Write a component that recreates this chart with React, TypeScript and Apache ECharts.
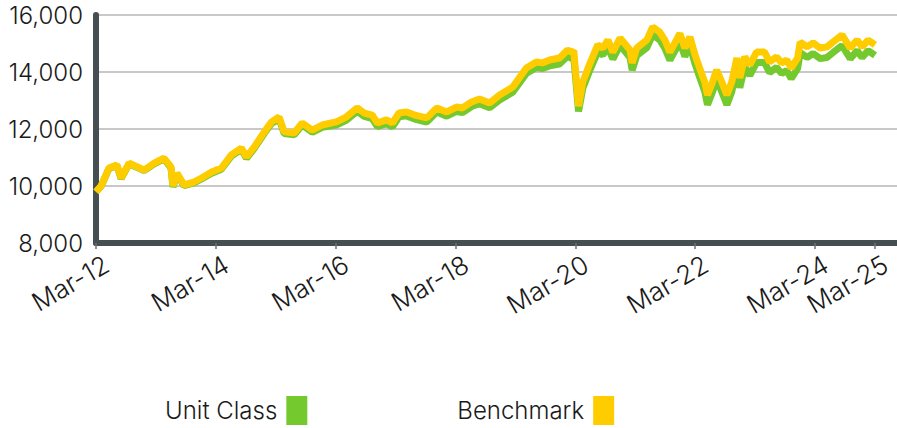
import React, { useEffect, useRef } from "react";
import * as echarts from "echarts";

const DATES = [
  "2012-03-01","2012-04-01","2012-05-19","2012-07-06","2012-08-01","2012-09-19","2012-12-19",
  "2013-02-19","2013-04-19","2013-06-01","2013-06-13","2013-07-07","2013-08-19","2013-10-19","2013-12-04",
  "2014-02-04","2014-04-04","2014-06-04","2014-08-04","2014-09-04","2014-10-22","2014-12-22",
  "2015-02-04","2015-03-22","2015-04-22","2015-06-22","2015-08-10","2015-10-10","2015-12-10",
  "2016-03-04","2016-05-04","2016-07-10","2016-08-22","2016-10-10","2016-11-10",
  "2017-01-04","2017-02-10","2017-03-22","2017-05-07","2017-06-25","2017-09-07","2017-11-07",
  "2018-01-07","2018-03-07","2018-04-13","2018-06-07","2018-07-25","2018-09-25","2018-11-25",
  "2019-02-13","2019-05-07","2019-07-07","2019-08-13","2019-09-25","2019-11-25",
  "2020-01-13","2020-02-07","2020-02-20","2020-03-20","2020-04-15","2020-05-25","2020-07-15",
  "2020-08-15","2020-09-15","2020-10-15","2020-11-28",
  "2021-01-28","2021-02-10","2021-03-10","2021-05-10","2021-06-15","2021-07-28","2021-08-28",
  "2021-09-28","2021-11-28","2021-12-28",
  "2022-01-28","2022-02-28","2022-03-28","2022-04-28","2022-05-15","2022-06-15","2022-07-10",
  "2022-08-10","2022-09-10","2022-10-10","2022-11-10","2022-11-28","2022-12-28",
  "2023-01-28","2023-03-10","2023-04-28","2023-05-28","2023-07-10","2023-08-10","2023-09-10",
  "2023-10-07","2023-11-15","2023-12-01",
  "2024-01-12","2024-02-18","2024-04-01","2024-05-12","2024-06-18","2024-08-12","2024-10-01",
  "2024-11-12","2024-12-12","2025-01-18","2025-03-01",
];

const BENCHMARK = [
  9800,10000,10630,10740,10280,10800,10560,
  10800,10980,10670,10000,10450,10040,10140,10280,
  10490,10630,11090,11330,11020,11370,11900,
  12250,12420,11900,11860,12210,11960,12140,
  12250,12420,12740,12560,12490,12210,
  12320,12210,12560,12600,12490,12390,12740,
  12600,12770,12740,12950,13050,12910,13190,
  13470,14140,14350,14320,14420,14490,
  14770,14700,14750,12800,13650,14250,14950,
  14840,15120,14700,15190,
  14770,14320,14840,15120,15580,15400,15120,
  14700,15350,14840,
  15230,14600,14140,13650,13190,13650,14070,
  13650,13190,13650,14490,13790,14530,
  14250,14700,14700,14350,14530,14320,14420,
  14140,14490,15050,
  14880,15020,14840,14880,15050,15300,14840,
  15120,14880,15120,14950,
];

const UNIT_CLASS = [
  9790,9990,10610,10720,10260,10780,10540,
  10775,10950,10640,9970,10420,10010,10110,10250,
  10450,10590,11050,11285,10975,11320,11850,
  12195,12360,11840,11795,12140,11885,12060,
  12140,12305,12620,12440,12365,12085,
  12190,12075,12425,12460,12350,12245,12595,
  12450,12615,12580,12790,12885,12745,13020,
  13290,13950,14155,14120,14215,14280,
  14550,14480,14520,12620,13430,14020,14710,
  14600,14875,14455,14940,
  14510,14060,14575,14850,15305,15125,14840,
  14420,15060,14545,
  14930,14290,13820,13320,12850,13310,13730,
  13310,12850,13310,14150,13450,14190,
  13880,14330,14330,13980,14160,13950,14050,
  13770,14120,14680,
  14510,14650,14470,14510,14680,14930,14470,
  14750,14510,14750,14580,
];

const TICK_DATES = ["2012-03-01","2014-03-01","2016-03-01","2018-03-01","2020-03-01","2022-03-01","2024-03-01","2025-03-01"];
const TICK_LABELS = ["Mar-12","Mar-14","Mar-16","Mar-18","Mar-20","Mar-22","Mar-24","Mar-25"];

const SERIES_NAMES = ["Unit Class", "Benchmark"];
const AXIS_MIN = "2012-03-01";
const AXIS_MAX = "2025-07-13";

const ts = (s: string) => new Date(s + "T00:00:00Z").getTime();
const DAY = 86400000;

export default function App() {
  const ref = useRef<HTMLDivElement>(null);
  useEffect(() => {
    document.body.style.margin = "0";
    if (!ref.current) return;
    const chart = echarts.init(ref.current, undefined, { renderer: "svg" });
    const tickTs = TICK_DATES.map(ts);
    // rotated labels sit slightly to the right of their tick, as in the reference
    const labelTs = tickTs.map((t) => t + 65 * DAY);
    const font = "Inter, 'Noto Sans', sans-serif";
    chart.setOption({
      animation: false,
      textStyle: { fontFamily: font },
      grid: { left: 96, right: 0, top: 15, bottom: 185, containLabel: false },
      legend: {
        left: 165,
        top: 396,
        padding: 0,
        align: "right",
        itemWidth: 21,
        itemHeight: 29,
        itemGap: 150,
        icon: "rect",
        data: SERIES_NAMES,
        textStyle: { fontFamily: font, fontSize: 24, fontWeight: 350, color: "#1a1a1a", padding: [0, 4, 0, 0] },
      },
      xAxis: {
        type: "value",
        min: ts(AXIS_MIN),
        max: ts(AXIS_MAX),
        splitLine: { show: false },
        axisLine: { show: true, lineStyle: { color: "#454f52", width: 6 } },
        axisTick: {
          show: true,
          customValues: tickTs,
          length: 6,
          lineStyle: { color: "#6a7275", width: 1.5 },
        },
        axisLabel: {
          customValues: labelTs,
          rotate: 30,
          margin: 19,
          hideOverlap: false,
          showMinLabel: true,
          showMaxLabel: true,
          fontFamily: font,
          fontSize: 26,
          fontWeight: 350,
          color: "#1a1a1a",
          formatter: (v: number) => {
            let best = 0;
            let bd = Infinity;
            labelTs.forEach((t, i) => {
              const d = Math.abs(t - v);
              if (d < bd) { bd = d; best = i; }
            });
            return TICK_LABELS[best];
          },
        },
      },
      yAxis: {
        type: "value",
        min: 8000,
        max: 16000,
        interval: 2000,
        axisLine: { show: true, lineStyle: { color: "#454f52", width: 6 } },
        axisTick: { show: false },
        splitLine: { show: true, lineStyle: { color: "#c8c8c8", width: 2 } },
        axisLabel: {
          margin: 13,
          fontFamily: font,
          fontSize: 24,
          fontWeight: 350,
          color: "#1a1a1a",
          padding: [4, 0, 0, 0],
          formatter: (v: number) => v.toLocaleString("en-US"),
        },
      },
      series: [
        {
          name: SERIES_NAMES[0],
          type: "line",
          showSymbol: false,
          symbol: "none",
          data: DATES.map((d, i) => [ts(d), UNIT_CLASS[i]]),
          lineStyle: { color: "#74c92f", width: 7 },
          itemStyle: { color: "#74c92f" },
          z: 2,
        },
        {
          name: SERIES_NAMES[1],
          type: "line",
          showSymbol: false,
          symbol: "none",
          data: DATES.map((d, i) => [ts(d), BENCHMARK[i]]),
          lineStyle: { color: "#ffcc00", width: 7 },
          itemStyle: { color: "#ffcc00" },
          z: 3,
        },
      ],
    });
    return () => chart.dispose();
  }, []);
  return <div ref={ref} style={{ width: 897, height: 428 }} />;
}
